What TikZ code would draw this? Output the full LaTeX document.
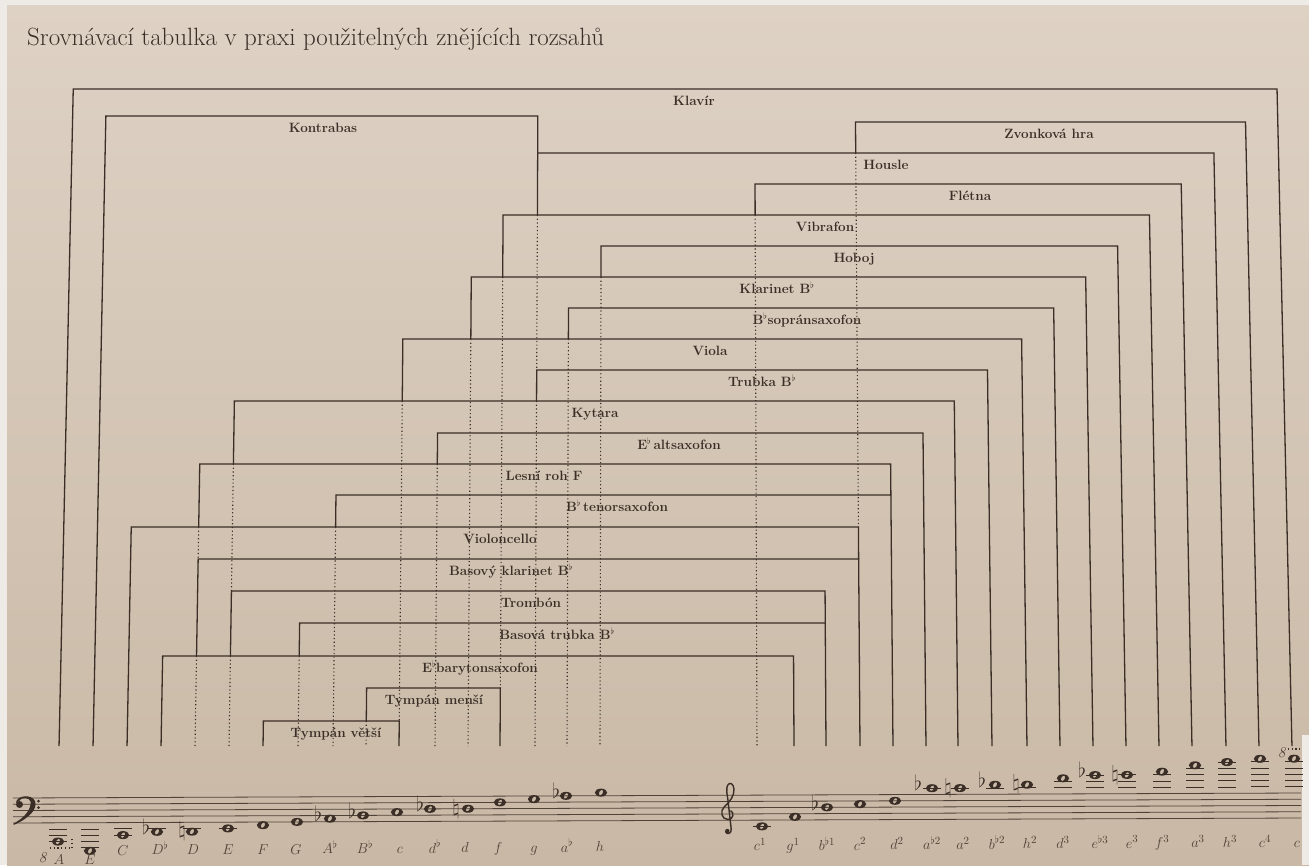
\documentclass[tikz,border=0pt]{standalone}
\usepackage{fontspec}
\usepackage{graphicx}
\definecolor{ink}{RGB}{58,46,38}
\definecolor{inkl}{RGB}{80,66,56}
\definecolor{paperT}{RGB}{222,210,197}
\definecolor{paperB}{RGB}{201,184,165}
\definecolor{edge}{RGB}{238,235,231}
\newcommand\XX[2]{#1+(#1-660)*0.006*((#2)-748)*0.006}
\newcommand\NY[2]{823-0.00388*(#1-13)-3.125*(#2)}
\newcommand\brk[5]{\draw[brline] ({\XX{#2}{#4}},#4) -- ({\XX{#2}{#1}},#1) -- ({\XX{#3}{#1}},#1) -- ({\XX{#3}{#5}},#5);}
\newcommand\dotv[3]{\draw[dotline] ({\XX{#1}{#2}},#2) -- ({\XX{#1}{#3}},#3);}
\newcommand\blabel[4]{\node[blbl] (#1) at (#2,#3+16.5) {#4};}
\newcommand\wnote[2]{\pic at (#1,{\NY{#1}{#2}}) {wn};}
\newcommand\ledg[2]{\draw[ledger] (#1-9,{\NY{#1}{#2}}) -- (#1+9,{\NY{#1}{#2}});}
\newcommand\flt[3]{\node[acc, anchor=base] (#3) at (#1,{\NY{#1}{#2}+2.6}) {\scalebox{1.45}{$\flat$}};}
\newcommand\nat[3]{\node[acc] (#3) at (#1,{\NY{#1}{#2}}) {\scalebox{1.45}{$\natural$}};}
\newcommand\nlab[3]{\node[nlbl] (#1) at (#2,{856-0.007*(#2-13)}) {$#3$};}
\begin{document}
\begin{tikzpicture}[x=1pt,y=-1pt,
 brline/.style={ink, line width=1.3pt, line join=miter},
 dotline/.style={ink, line width=1.1pt, dash pattern=on 1.2pt off 2.5pt},
 blbl/.style={ink, anchor=base, inner sep=0pt, font=\fontsize{13.5}{15}\selectfont\bfseries},
 nlbl/.style={inkl, anchor=base, inner sep=0pt, font=\fontsize{15}{17}\selectfont},
 acc/.style={ink, inner sep=0pt, font=\fontsize{14.4}{17}\selectfont},
 ledger/.style={ink, line width=0.9pt},
 staff/.style={inkl, line width=0.8pt},
 wn/.pic={\fill[ink, even odd rule] (0,0) ellipse (6.2pt and 4pt) {[rotate=60] (0,0) ellipse (2.9pt and 1.8pt)};}
]
\useasboundingbox (0,0) rectangle (1309,865);
\fill[edge] (0,0) rectangle (1309,865);
\shade[top color=paperT, bottom color=paperB] (7,5) rectangle (1309,865);
\fill[edge] (1302,735) rectangle (1309,865);

% title
\node[anchor=base west, inner sep=0pt, text=ink] (title) at (27,45)
  {\resizebox{577pt}{!}{\fontsize{21}{24}\selectfont Srovnávací tabulka v praxi použitelných znějících rozsahů}};

% brackets: y, left X, right X, left solid end, right solid end
\brk{89}{59}{1292}{746}{746}
\brk{116}{93}{535}{746}{153}
\brk{122}{860}{1259}{153}{746}
\brk{153}{535}{1226}{215}{746}
\brk{184}{757}{1192}{215}{746}
\brk{215}{500}{1159}{277}{746}
\brk{246}{600}{1126}{277}{746}
\brk{277}{468}{1093}{339}{746}
\brk{308}{567}{1060}{339}{746}
\brk{339}{399}{1027}{401}{746}
\brk{370}{535}{992}{401}{746}
\brk{401}{229}{958}{464}{746}
\brk{433}{435}{926}{464}{746}
\brk{464}{195}{893}{527}{495}
\brk{495}{333}{893}{527}{746}
\brk{527}{127}{860}{746}{559}
\brk{559}{195}{860}{656}{746}
\brk{591}{229}{826}{656}{623}
\brk{623}{298}{826}{656}{746}
\brk{656}{161}{794}{746}{746}
\brk{688}{366}{500}{721}{746}
\brk{721}{263}{399}{746}{746}

% dotted continuations
\dotv{195}{527}{559} \dotv{195}{656}{746}
\dotv{229}{464}{591} \dotv{229}{656}{746}
\dotv{298}{656}{746}
\dotv{333}{527}{746}
\dotv{366}{721}{746}
\dotv{399}{401}{721}
\dotv{435}{464}{746}
\dotv{468}{339}{746}
\dotv{500}{277}{688}
\dotv{535}{215}{370} \dotv{535}{401}{746}
\dotv{567}{339}{746}
\dotv{600}{277}{746}
\dotv{757}{215}{746}
\dotv{860}{153}{527}

% instrument labels
\blabel{klavir}{694}{89}{Klavír}
\blabel{kontrabas}{323}{116}{Kontrabas}
\blabel{zvonkova}{1049}{122}{Zvonková hra}
\blabel{housle}{886}{153}{Housle}
\blabel{fletna}{970}{184}{Flétna}
\blabel{vibrafon}{825}{215}{Vibrafon}
\blabel{hoboj}{854}{246}{Hoboj}
\blabel{klarinet}{777}{277}{Klarinet B$^\flat$}
\blabel{sopran}{807}{308}{B$^\flat$sopránsaxofon}
\blabel{viola}{710}{339}{Viola}
\blabel{trubka}{762}{370}{Trubka B$^\flat$}
\blabel{kytara}{595}{401}{Kytara}
\blabel{alt}{679}{433}{E$^\flat$\,altsaxofon}
\blabel{lesniroh}{544}{464}{Lesní roh F}
\blabel{tenor}{617}{495}{B$^\flat$\,tenorsaxofon}
\blabel{cello}{500}{527}{Violoncello}
\blabel{basklar}{511}{559}{Basový klarinet B$^\flat$}
\blabel{trombon}{531}{591}{Trombón}
\blabel{bastrub}{557}{623}{Basová trubka B$^\flat$}
\blabel{baryton}{480}{656}{E$^\flat$barytonsaxofon}
\blabel{tympm}{434}{688}{Tympán menší}
\blabel{tympv}{336}{721}{Tympán větší}

% staff
\foreach \k in {0,...,4} \draw[staff] (13,{823-6.25*\k}) -- (1301,{818-6.25*\k});

% bass clef
\fill[ink] (19.5,804.5) circle (3.5pt);
\fill[ink] (16,803) .. controls (16,795.5) and (31.5,793.5) .. (35,801)
  .. controls (38,809) and (29,818.5) .. (13.5,825)
  -- (13.5,823.6) .. controls (26,817) and (31.5,808) .. (30.5,801.5)
  .. controls (29.5,797) and (21,797) .. (19,801) -- cycle;
\fill[ink] (38.5,801) circle (1.5pt) (38.5,807.5) circle (1.5pt);

% treble clef
\draw[ink, line width=1.4pt] (730.5,810.5)
  .. controls (734.5,812.5) and (733.5,819.5) .. (728,819.5)
  .. controls (721.5,819.5) and (719.5,811) .. (724.5,806.5)
  .. controls (729.5,802) and (734.5,796) .. (734,789)
  .. controls (733.5,783.5) and (729.5,781.5) .. (727.5,785.5)
  .. controls (726,789) and (727,794) .. (727.8,799)
  -- (731.2,829)
  .. controls (731.8,834) and (726.5,835) .. (725.5,831.5);
\fill[ink] (727.3,831) circle (2.2pt);

% ledger lines
\ledg{58}{-2}\ledg{58}{-4}\ledg{58}{-6}
\ledg{90}{-2}\ledg{90}{-4}\ledg{90}{-6}\ledg{90}{-8}
\ledg{123}{-2}\ledg{123}{-4}
\ledg{157}{-2}\ledg{192}{-2}\ledg{228}{-2}
\ledg{762}{-2}
\ledg{932}{10}\ledg{960}{10}\ledg{995}{10}\ledg{1027}{10}
\ledg{1063}{10}\ledg{1063}{12}
\foreach \xx in {1095,1127,1162}{\ledg{\xx}{10}\ledg{\xx}{12}\ledg{\xx}{14}}
\ledg{1195}{10}\ledg{1195}{12}\ledg{1195}{14}\ledg{1195}{16}
\foreach \xx in {1227,1260,1294}{\ledg{\xx}{10}\ledg{\xx}{12}\ledg{\xx}{14}\ledg{\xx}{16}\ledg{\xx}{18}}

% notes (bass clef)
\wnote{58}{-6}\wnote{90}{-9}\wnote{123}{-4}\wnote{157}{-3}\wnote{192}{-3}
\wnote{228}{-2}\wnote{263}{-1}\wnote{297}{0}\wnote{330}{1}\wnote{363}{2}
\wnote{397}{3}\wnote{430}{4}\wnote{468}{4}\wnote{500}{6}\wnote{534}{7}
\wnote{566}{8}\wnote{601}{9}
% notes (treble clef)
\wnote{762}{-2}\wnote{795}{1}\wnote{827}{4}\wnote{860}{5}\wnote{895}{6}
\wnote{932}{10}\wnote{960}{10}\wnote{995}{11}\wnote{1027}{11}\wnote{1063}{13}
\wnote{1095}{14}\wnote{1127}{14}\wnote{1162}{15}\wnote{1195}{17}\wnote{1227}{18}
\wnote{1260}{19}\wnote{1294}{19}

% accidentals
\flt{146}{-3}{fa}\nat{182}{-3}{na}
\flt{318}{1}{fb}\flt{352}{2}{fc}\flt{420}{4}{fd}\nat{456}{4}{nb}\flt{556}{8}{fe}
\flt{815}{4}{ff}\flt{918}{10}{fg}\nat{948}{10}{nc}\flt{982}{11}{fh}\nat{1016}{11}{nd}
\flt{1082}{14}{fi}\nat{1115}{14}{ne}

% 8va marks
\node[nlbl] (oct1) at (43,862) {\textit{8}};
\draw[dotline] (50,848) -- (72,848) -- (72,837);
\node[nlbl] (oct2) at (1282,757) {\textit{8}};
\draw[dotline] (1288,749) -- (1301,749);

% note names
\node[nlbl] (lA) at (59,864.5) {$A$};
\node[nlbl] (lE) at (90,864.5) {$E$};
\nlab{l1}{123}{C}\nlab{l2}{160}{D^\flat}\nlab{l3}{193}{D}\nlab{l4}{228}{E}
\nlab{l5}{263}{F}\nlab{l6}{296}{G}\nlab{l7}{330}{A^\flat}\nlab{l8}{365}{B^\flat}
\nlab{l9}{400}{c}\nlab{l10}{435}{d^\flat}\nlab{l11}{465}{d}\nlab{l12}{498}{f}
\nlab{l13}{534}{g}\nlab{l14}{567}{a^\flat}\nlab{l15}{600}{h}
\nlab{l16}{760}{c^1}\nlab{l17}{793}{g^1}\nlab{l18}{827}{b^{\flat1}}\nlab{l19}{860}{c^2}
\nlab{l20}{897}{d^2}\nlab{l21}{932}{a^{\flat2}}\nlab{l22}{963}{a^2}\nlab{l23}{997}{b^{\flat2}}
\nlab{l24}{1030}{h^2}\nlab{l25}{1063}{d^3}\nlab{l26}{1100}{e^{\flat3}}\nlab{l27}{1132}{e^3}
\nlab{l28}{1162}{f^3}\nlab{l29}{1198}{a^3}\nlab{l30}{1230}{h^3}\nlab{l31}{1265}{c^4}
\nlab{l32}{1297}{c}
\end{tikzpicture}
\end{document}
